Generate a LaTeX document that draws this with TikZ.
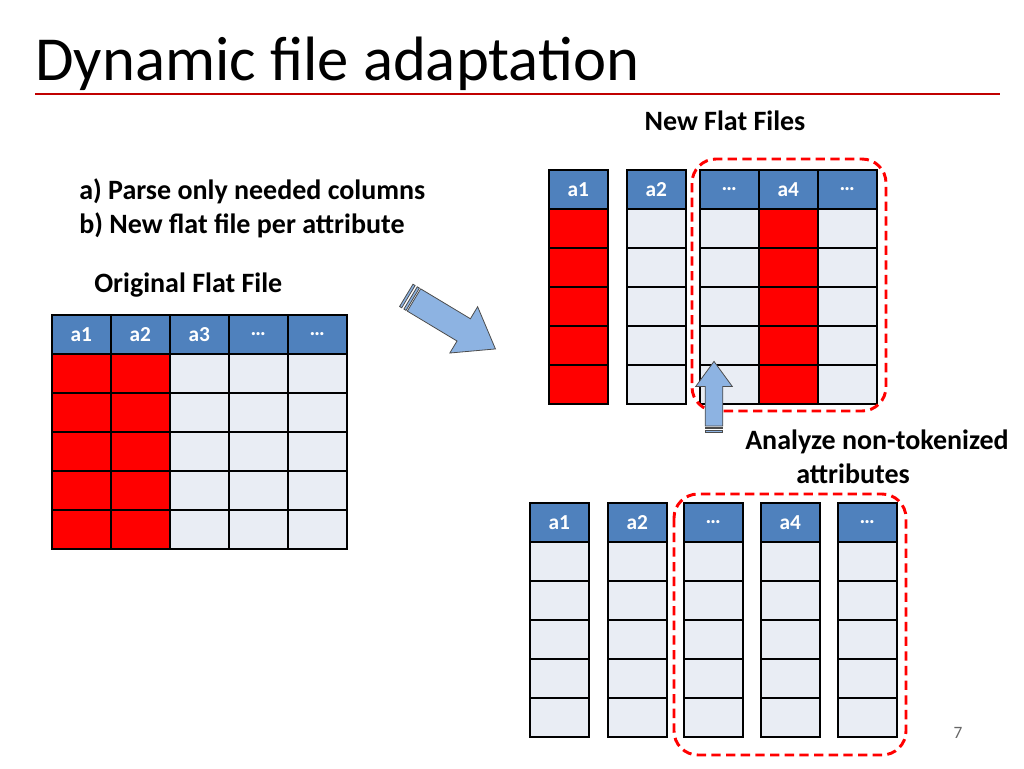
\documentclass[tikz,border=0pt]{standalone}
\usepackage{fontspec}
\setmainfont{Carlito}
\definecolor{hdrblue}{HTML}{4F81BD}
\definecolor{cellgray}{HTML}{E9EDF4}
\definecolor{cellred}{HTML}{FF0000}
\definecolor{arrowblue}{HTML}{8DB3E2}
\definecolor{linered}{HTML}{C00000}
\tikzset{
  cell/.style={draw=black, line width=1.2pt, minimum width=44.25pt, minimum height=29.25pt,
               inner sep=0pt, anchor=north west},
  hdr/.style={cell, fill=hdrblue, text=white, font=\fontsize{16}{18}\selectfont\bfseries},
  txt/.style={font=\fontsize{21}{24}\selectfont\bfseries, inner sep=0pt},
  fatarrow/.style={draw=black!70, fill=arrowblue, line width=0.6pt},
  redbox/.style={cellred, line width=2.2pt, dash pattern=on 7pt off 4pt, rounded corners=18pt}
}
% one column: name, x, y, header label, number of red rows (from top)
\newcommand{\flatcol}[5]{%
  \node[hdr] (#1h) at (#2,#3) {#4};
  \foreach \r in {1,...,5}{
    \ifnum\r>#5 \def\cellfill{cellgray}\else\def\cellfill{cellred}\fi
    \node[cell, fill=\cellfill] (#1c\r) at (#2,#3+39*\r) {};
  }
}
% striped fat arrow, drawn along +x from the origin
\newcommand{\fatarrowpath}{%
  \draw[fatarrow] (0,-13) -- (58,-13) -- (58,-27) -- (95,0) -- (58,27) -- (58,13) -- (0,13) -- cycle;
  \draw[fatarrow] (-4,-13) rectangle (-1.5,13);
  \draw[fatarrow] (-9,-13) rectangle (-6.5,13);
}
\begin{document}
\begin{tikzpicture}[x=0.75pt, y=-0.75pt]
\useasboundingbox (0,0) rectangle (1024,768);

% title
\node[anchor=base west, inner sep=0pt, font=\fontsize{47}{50}\selectfont] (title) at (35,80) {Dynamic file adaptation};
\draw[linered, line width=2.2pt] (35,94) -- (1000,94);

% texts
\node[txt, anchor=base] (newff) at (725,130) {New Flat Files};
\node[txt, anchor=base west] (parse) at (79,199) {a) Parse only needed columns};
\node[txt, anchor=base west] (perattr) at (79,233) {b) New flat file per attribute};
\node[txt, anchor=base west] (origff) at (94,292) {Original Flat File};
\node[txt, anchor=base west] (analyze) at (745,449) {Analyze non-tokenized};
\node[txt, anchor=base] (attrs) at (853,483) {attributes};
\node[anchor=base, text=black!60, font=\fontsize{13}{15}\selectfont] (pagenum) at (958,738) {7};

% original flat file
\flatcol{oa}{51}{314}{a1}{5}
\flatcol{ob}{110}{314}{a2}{5}
\flatcol{oc}{169}{314}{a3}{0}
\flatcol{od}{228}{314}{\dots}{0}
\flatcol{oe}{287}{314}{\dots}{0}

% new flat files
\flatcol{na}{548}{169}{a1}{5}
\flatcol{nb}{626}{169}{a2}{0}
\flatcol{nc}{699}{169}{\dots}{0}
\flatcol{nd}{758}{169}{a4}{5}
\flatcol{ne}{817}{169}{\dots}{0}
\draw[redbox] (692,159) rectangle (886,411);

% analyzed flat files
\flatcol{aa}{529}{502}{a1}{0}
\flatcol{ab}{607}{502}{a2}{0}
\flatcol{ac}{683}{502}{\dots}{0}
\flatcol{ad}{760}{502}{a4}{0}
\flatcol{ae}{837}{502}{\dots}{0}
\draw[redbox] (674,494) rectangle (906,755);

% arrows
\begin{scope}[shift={(414,300)}, rotate=-31]
  \fatarrowpath
\end{scope}
\begin{scope}[shift={(714,426)}, rotate=90, scale=0.68]
  \fatarrowpath
\end{scope}
\end{tikzpicture}
\end{document}
